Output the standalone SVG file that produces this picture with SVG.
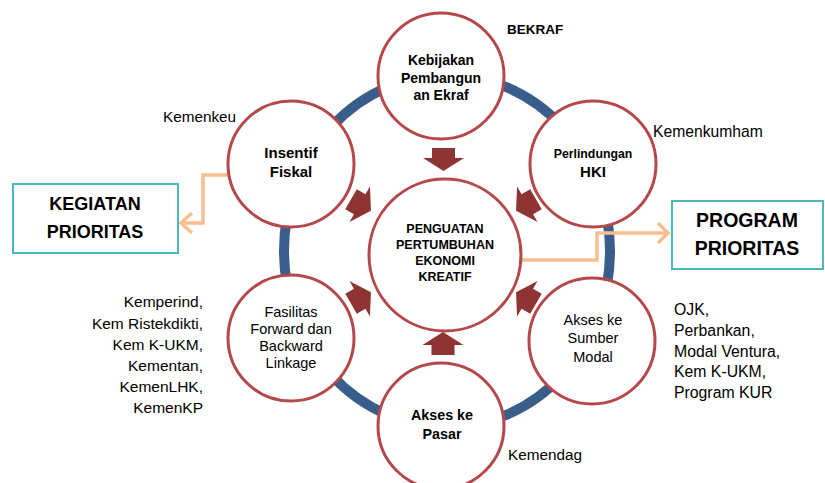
<svg xmlns="http://www.w3.org/2000/svg" width="825" height="483" viewBox="0 0 825 483">
<defs>
<style>
.node{fill:#fff;stroke:#B5484A;stroke-width:3}
.ring{fill:none;stroke:#395E8C;stroke-width:10}
.con{fill:none;stroke:#F9BE8F;stroke-width:3.5;stroke-linejoin:miter}
.arr{fill:#8E3432}
.box{fill:#fff;stroke:#4BB8BF;stroke-width:2}
text{font-family:"Liberation Sans",Arial,sans-serif;fill:#000}
.b{font-weight:bold}
.m{text-anchor:middle}
.e{text-anchor:end}
</style>
<path id="ba" d="M-11.5,-11.5 H11.5 V-1.5 H20.5 L0,11.5 L-20.5,-1.5 H-11.5 Z"/>
</defs>
<rect width="825" height="483" fill="#fff"/>
<ellipse class="ring" cx="447" cy="251" rx="163" ry="176"/>
<g id="connectors">
<polyline class="con" points="230,175 203,175 203,223 182,223"/>
<polyline class="con" points="192,213 181,223 192,233"/>
<polyline class="con" points="520,260 597,260 597,233 668,233"/>
<polyline class="con" points="658,223 668,233 658,243"/>
</g>
<g id="arrows">
<use href="#ba" class="arr" transform="translate(443.5,159.5)"/>
<use href="#ba" class="arr" transform="translate(443,343.5) rotate(180)"/>
<use href="#ba" class="arr" transform="translate(361,205) rotate(-60)"/>
<use href="#ba" class="arr" transform="translate(526,205) rotate(60)"/>
<use href="#ba" class="arr" transform="translate(361,298) rotate(-120)"/>
<use href="#ba" class="arr" transform="translate(526,298) rotate(120)"/>
</g>
<g id="center">
<circle class="node" cx="445" cy="255" r="76"/>
<text class="b m" font-size="12.5" x="445"><tspan x="445" y="233">PENGUATAN</tspan><tspan x="445" y="249">PERTUMBUHAN</tspan><tspan x="445" y="265">EKONOMI</tspan><tspan x="445" y="281">KREATIF</tspan></text>
</g>
<g id="kebijakan">
<circle class="node" cx="441" cy="76" r="63"/>
<text class="b m" font-size="14"><tspan x="441" y="65">Kebijakan</tspan><tspan x="441" y="83">Pembangun</tspan><tspan x="441" y="100">an Ekraf</tspan></text>
</g>
<g id="hki">
<circle class="node" cx="593" cy="164" r="63"/>
<text class="b m" font-size="12.3" x="593" y="158">Perlindungan</text>
<text class="b m" font-size="15" x="593" y="177">HKI</text>
</g>
<g id="insentif">
<circle class="node" cx="291" cy="164" r="63"/>
<text class="b m" font-size="15"><tspan x="291" y="158">Insentif</tspan><tspan x="291" y="177">Fiskal</tspan></text>
</g>
<g id="fasilitas">
<circle class="node" cx="291" cy="338" r="63"/>
<text class="m" font-size="14.5"><tspan x="291" y="317">Fasilitas</tspan><tspan x="291" y="334">Forward dan</tspan><tspan x="291" y="351">Backward</tspan><tspan x="291" y="368">Linkage</tspan></text>
</g>
<g id="modal">
<circle class="node" cx="592" cy="341" r="63"/>
<text class="m" font-size="14.5"><tspan x="593" y="325">Akses ke</tspan><tspan x="593" y="343">Sumber</tspan><tspan x="593" y="362">Modal</tspan></text>
</g>
<g id="pasar">
<circle class="node" cx="441" cy="426" r="63"/>
<text class="b m" font-size="14.3"><tspan x="442" y="420">Akses ke</tspan><tspan x="442" y="439">Pasar</tspan></text>
</g>
<g id="kegiatan">
<rect class="box" x="13" y="184" width="165" height="69"/>
<text class="b m" font-size="18"><tspan x="95" y="210">KEGIATAN</tspan><tspan x="95" y="238">PRIORITAS</tspan></text>
</g>
<g id="program">
<rect class="box" x="672" y="201" width="151" height="68"/>
<text class="b m" font-size="19.5"><tspan x="747" y="227">PROGRAM</tspan><tspan x="747" y="255">PRIORITAS</tspan></text>
</g>
<g id="labels">
<text class="b" font-size="13.5" x="507" y="34">BEKRAF</text>
<text font-size="15.3" x="163" y="122">Kemenkeu</text>
<text font-size="15.7" x="653" y="137">Kemenkumham</text>
<text font-size="15.3" x="508" y="460">Kemendag</text>
<text class="e" font-size="15.5"><tspan x="203" y="307">Kemperind,</tspan><tspan x="203" y="329">Kem Ristekdikti,</tspan><tspan x="203" y="350">Kem K-UKM,</tspan><tspan x="203" y="371">Kementan,</tspan><tspan x="203" y="392">KemenLHK,</tspan><tspan x="203" y="413">KemenKP</tspan></text>
<text font-size="15.8"><tspan x="674" y="315">OJK,</tspan><tspan x="674" y="336">Perbankan,</tspan><tspan x="674" y="357">Modal Ventura,</tspan><tspan x="674" y="377">Kem K-UKM,</tspan><tspan x="674" y="398">Program KUR</tspan></text>
</g>
</svg>
